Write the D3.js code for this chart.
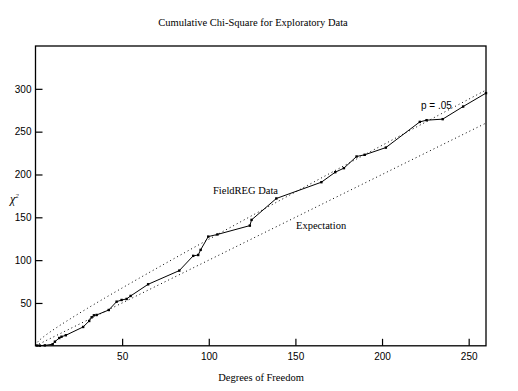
<!DOCTYPE html>
<html>
<head>
<meta charset="utf-8">
<script src="https://cdn.jsdelivr.net/npm/d3@7"></script>
<style>
  html, body { margin: 0; padding: 0; background: #fff; }
  svg { display: block; }
  .serif { font-family: "Liberation Serif", "DejaVu Serif", serif; }
  .sans { font-family: "Liberation Sans", Arial, sans-serif; }
</style>
</head>
<body>
<svg id="chart" width="518" height="391"></svg>
<script>
// ---- Data ----
const fieldDf   = [1, 2.5, 5.4, 9.9, 11.2, 13.7, 15, 17.5, 27.5, 31, 32.4, 33.7, 35.3, 42.3, 46.8, 49.7, 52.6, 54.9, 65, 83, 91, 93.9, 95.3, 99.7, 105, 123.7, 124.7, 139, 165, 173, 178, 185.3, 190, 202.2, 221.8, 225.7, 235, 246.8, 260];
const fieldChi  = [0.3, 0.2, 0.5, 1.8, 4.8, 9.1, 10.6, 12.3, 22, 29, 33.3, 35.6, 36, 41.8, 51.5, 53.5, 54.7, 58.2, 71.8, 87.8, 105, 106, 112, 127.5, 130, 140.3, 147, 172, 191, 202.7, 207.4, 221, 223, 231.4, 261.4, 263.4, 264.6, 279.3, 295];

const expectDf  = [0, 260];
const expectChi = [0, 260];

const p05Df  = [0, 1, 2, 5, 10, 20, 30, 40, 50, 60, 80, 100, 150, 200, 250, 260];
const p05Chi = [0, 3.84, 5.99, 11.07, 18.31, 31.41, 43.77, 55.76, 67.50, 79.08, 101.88, 124.34, 179.58, 233.99, 287.88, 298.6];

const xTicks = [50, 100, 150, 200, 250];
const yTicks = [50, 100, 150, 200, 250, 300];
const xDomain = [0, 260];
const yDomain = [0, 350];

const titleText = "Cumulative Chi-Square  for Exploratory Data";
const xLabel = "Degrees  of Freedom";
const fieldLabel = "FieldREG Data";
const expectLabel = "Expectation";
const p05Label = "p = .05";

// ---- Layout ----
const svg = d3.select("#chart");
const L = 35.5, R = 486, T = 46, B = 345.8;

svg.append("rect").attr("width", 518).attr("height", 391).attr("fill", "#fff");

const x = d3.scaleLinear().domain(xDomain).range([L, R]);
const y = d3.scaleLinear().domain(yDomain).range([B, T]);

// frame
svg.append("rect")
  .attr("x", L).attr("y", T).attr("width", R - L).attr("height", B - T)
  .attr("fill", "none").attr("stroke", "#000").attr("stroke-width", 1.3);

// axes
const xAxis = d3.axisBottom(x).tickValues(xTicks).tickSize(-7).tickPadding(7).tickFormat(d3.format("d"));
const yAxis = d3.axisLeft(y).tickValues(yTicks).tickSize(-7).tickPadding(4).tickFormat(d3.format("d"));

const gx = svg.append("g").attr("transform", `translate(0,${B})`).call(xAxis);
const gy = svg.append("g").attr("transform", `translate(${L},0)`).call(yAxis);
[gx, gy].forEach(g => {
  g.select(".domain").remove();
  g.selectAll(".tick line").attr("stroke", "#000").attr("stroke-width", 1.2);
  g.selectAll(".tick text").attr("class", "sans").attr("font-size", 10).attr("fill", "#000");
});

// lines
const line = d3.line().x(d => x(d[0])).y(d => y(d[1]));
const zip = (a, b) => a.map((v, i) => [v, b[i]]);

svg.append("path").datum(zip(expectDf, expectChi))
  .attr("d", line).attr("fill", "none").attr("stroke", "#000")
  .attr("stroke-width", 1).attr("stroke-dasharray", "1,3");

svg.append("path").datum(zip(p05Df, p05Chi))
  .attr("d", line.curve(d3.curveMonotoneX)).attr("fill", "none").attr("stroke", "#000")
  .attr("stroke-width", 1).attr("stroke-dasharray", "1,3");

const fieldLine = d3.line().x(d => x(d[0])).y(d => y(d[1]));
const fieldData = zip(fieldDf, fieldChi);
svg.append("path").datum(fieldData)
  .attr("d", fieldLine).attr("fill", "none").attr("stroke", "#000").attr("stroke-width", 1);

svg.append("g").selectAll("rect").data(fieldData).join("rect")
  .attr("x", d => x(d[0]) - 1.2).attr("y", d => y(d[1]) - 1.2)
  .attr("width", 2.4).attr("height", 2.4).attr("fill", "#000");

// text
svg.append("text").attr("class", "serif").attr("x", 253).attr("y", 26)
  .attr("text-anchor", "middle").attr("font-size", 10.5).text(titleText);

svg.append("text").attr("class", "serif").attr("x", 261).attr("y", 381)
  .attr("text-anchor", "middle").attr("font-size", 10.5).text(xLabel);

const chi = svg.append("text").attr("class", "serif").attr("x", 10).attr("y", 203)
  .attr("font-size", 12).attr("font-style", "italic");
chi.append("tspan").text("χ");
chi.append("tspan").attr("font-size", 7).attr("dy", -5).text("2");

svg.append("text").attr("class", "serif").attr("x", 213).attr("y", 194)
  .attr("font-size", 10.5).text(fieldLabel);
svg.append("text").attr("class", "serif").attr("x", 296).attr("y", 229)
  .attr("font-size", 10.5).text(expectLabel);
svg.append("text").attr("class", "sans").attr("x", 421).attr("y", 109)
  .attr("font-size", 10).text(p05Label);
</script>
</body>
</html>
